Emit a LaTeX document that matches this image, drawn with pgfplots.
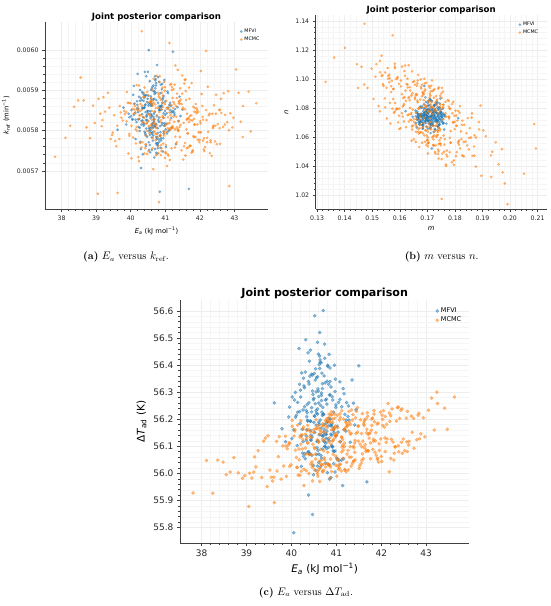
\documentclass[border=0pt]{standalone}
\usepackage{fontspec}
\usepackage{pgfplots}
\usepackage{pgfplotstable}
\pgfplotsset{compat=1.18}
\newfontfamily\djv{DejaVu Sans}
\definecolor{mfvi}{HTML}{1F77B4}
\definecolor{mcmc}{HTML}{FF7F0E}

\pgfplotstableread{
Ea k m n dT
40.69 0.005846 0.1715 1.0752 56.214
40.37 0.005812 0.1683 1.0701 56.078
41.08 0.005893 0.1739 1.0788 56.338
40.52 0.005771 0.1702 1.0659 56.151
40.88 0.005858 0.1668 1.0734 55.985
40.14 0.005827 0.1726 1.0815 56.262
40.71 0.005905 0.1694 1.0697 56.120
40.96 0.005798 0.1751 1.0742 56.399
40.43 0.005865 0.1709 1.0863 56.192
40.61 0.005752 0.1661 1.0724 56.040
41.27 0.005839 0.1721 1.0681 56.249
40.29 0.005881 0.1698 1.0769 56.316
40.78 0.005806 0.1744 1.0806 56.092
40.55 0.005923 0.1679 1.0745 56.178
40.02 0.005851 0.1712 1.0628 56.282
40.84 0.005787 0.1733 1.0711 56.439
40.66 0.005834 0.1657 1.0783 56.142
41.14 0.005869 0.1706 1.0739 55.955
40.35 0.005741 0.1769 1.0694 56.224
40.73 0.005912 0.1688 1.0827 56.360
40.49 0.005823 0.1724 1.0757 56.029
40.92 0.005877 0.1697 1.0672 56.271
39.87 0.005815 0.1716 1.0748 56.117
40.62 0.005792 0.1741 1.0796 56.181
41.35 0.005858 0.1675 1.0719 56.345
40.41 0.005946 0.1703 1.0733 56.073
40.79 0.005763 0.1729 1.0651 56.256
40.58 0.005841 0.1664 1.0776 56.484
40.24 0.005884 0.1737 1.0838 56.163
41.01 0.005803 0.1692 1.0705 56.056
40.67 0.005829 0.1718 1.0762 56.297
40.33 0.005896 0.1756 1.0727 56.138
40.86 0.005757 0.1685 1.0689 56.389
40.51 0.005862 0.1711 1.0853 56.212
40.97 0.005818 0.1647 1.0741 56.005
40.18 0.005873 0.1734 1.0714 56.329
40.74 0.005784 0.1701 1.0791 56.100
40.45 0.005935 0.1723 1.0636 56.243
41.21 0.005847 0.1681 1.0755 56.156
40.63 0.005796 0.1747 1.0768 56.520
40.38 0.005856 0.1696 1.0722 55.920
40.81 0.005822 0.1714 1.0809 56.191
40.07 0.005889 0.1672 1.0699 56.271
40.93 0.005748 0.1738 1.0746 56.083
40.56 0.005868 0.1708 1.0781 56.353
40.71 0.005809 0.1662 1.0667 56.140
41.44 0.005836 0.1727 1.0735 56.235
40.27 0.005901 0.1693 1.0874 56.063
40.64 0.005775 0.1752 1.0712 56.410
40.89 0.005852 0.1686 1.0758 56.175
40.47 0.005827 0.1719 1.0693 56.304
40.76 0.005963 0.1705 1.0771 56.038
39.94 0.005842 0.1731 1.0727 56.208
41.05 0.005793 0.1677 1.0802 56.262
40.59 0.005878 0.1743 1.0684 56.120
40.31 0.005815 0.1699 1.0744 56.374
40.83 0.005861 0.1666 1.0762 56.096
40.68 0.005733 0.1725 1.0819 56.226
40.42 0.005887 0.1713 1.0706 56.455
41.17 0.005831 0.1689 1.0738 56.162
40.54 0.005804 0.1761 1.0653 56.011
40.91 0.005916 0.1707 1.0785 56.283
40.22 0.005854 0.1674 1.0749 56.138
40.75 0.005779 0.1736 1.0716 56.334
40.61 0.005838 0.1695 1.0843 56.071
40.99 0.005872 0.1722 1.0731 56.244
40.36 0.005819 0.1658 1.0697 56.196
40.66 0.005898 0.1748 1.0776 56.409
41.31 0.005766 0.1703 1.0764 56.115
40.48 0.005849 0.1682 1.0682 56.291
40.85 0.005811 0.1717 1.0793 55.979
40.11 0.005867 0.1732 1.0725 56.214
40.72 0.005928 0.1691 1.0753 56.151
40.53 0.005799 0.1709 1.0661 56.345
40.95 0.005843 0.1745 1.0832 56.081
40.39 0.005882 0.1669 1.0741 56.261
40.78 0.005756 0.1728 1.0708 56.186
40.60 0.005835 0.1698 1.0787 56.440
41.12 0.005864 0.1714 1.0729 56.049
40.26 0.005807 0.1676 1.0757 56.234
40.69 0.005891 0.1739 1.0674 56.313
40.44 0.005826 0.1704 1.0816 56.123
40.87 0.005781 0.1663 1.0736 56.200
39.79 0.005857 0.1721 1.0769 56.165
40.63 0.005909 0.1755 1.0702 56.387
41.03 0.005817 0.1687 1.0747 56.052
40.50 0.005848 0.1712 1.0858 56.277
40.77 0.005769 0.1735 1.0718 56.130
40.32 0.005876 0.1693 1.0772 56.493
40.94 0.005832 0.1671 1.0691 56.226
40.57 0.005801 0.1726 1.0754 56.095
40.20 0.005941 0.1706 1.0797 56.307
40.82 0.005853 0.1742 1.0733 56.175
41.38 0.005824 0.1684 1.0664 56.259
40.65 0.005788 0.1715 1.0779 56.025
40.41 0.005863 0.1658 1.0744 56.359
40.90 0.005814 0.1731 1.0825 56.141
40.58 0.005885 0.1701 1.0711 56.219
40.74 0.005745 0.1749 1.0759 56.425
40.13 0.005845 0.1679 1.0738 56.103
39.62 0.005802 0.1707 1.0742 56.260
41.68 0.005655 0.1733 1.0768 55.969
40.52 0.006000 0.1694 1.0715 56.582
40.84 0.005648 0.1812 1.0731 56.121
40.47 0.005871 0.1621 1.0779 55.848
41.22 0.005996 0.1716 1.0523 56.196
40.71 0.005815 0.1689 1.0952 56.601
40.05 0.005829 0.1742 1.0687 55.781
41.50 0.005852 0.1697 1.0762 56.397
40.30 0.005707 0.1724 1.0749 56.073
40.67 0.005842 0.1668 1.0703 56.288
40.95 0.005793 0.1711 1.0791 56.151
40.38 0.005889 0.1746 1.0725 56.339
40.80 0.005826 0.1683 1.0658 56.003
40.55 0.005764 0.1729 1.0774 56.232
41.09 0.005857 0.1702 1.0837 56.116
40.23 0.005809 0.1738 1.0712 56.371
40.73 0.005918 0.1675 1.0747 56.181
40.46 0.005838 0.1719 1.0682 56.067
40.88 0.005776 0.1754 1.0756 56.319
40.62 0.005866 0.1691 1.0801 56.143
40.17 0.005821 0.1713 1.0737 56.461
41.26 0.005844 0.1664 1.0719 56.210
40.59 0.005901 0.1736 1.0765 56.085
40.76 0.005784 0.1705 1.0696 56.271
40.34 0.005855 0.1727 1.0784 56.161
40.98 0.005813 0.1686 1.0728 56.348
40.49 0.005879 0.1747 1.0866 55.995
40.70 0.005754 0.1699 1.0743 56.244
40.01 0.005836 0.1673 1.0707 56.128
40.86 0.005893 0.1722 1.0782 56.290
40.64 0.005818 0.1741 1.0665 56.197
41.16 0.005861 0.1694 1.0753 56.054
40.40 0.005797 0.1718 1.0722 56.414
40.79 0.005933 0.1677 1.0808 56.156
40.56 0.005848 0.1733 1.0739 56.222
40.28 0.005772 0.1708 1.0694 56.323
40.92 0.005869 0.1752 1.0771 56.097
40.67 0.005826 0.1681 1.0747 56.269
41.41 0.005884 0.1715 1.0716 56.179
40.45 0.005805 0.1697 1.0789 56.366
40.83 0.005851 0.1737 1.0677 56.032
40.09 0.005911 0.1666 1.0759 56.207
40.61 0.005783 0.1724 1.0822 56.284
41.00 0.005839 0.1703 1.0733 56.139
40.37 0.005874 0.1744 1.0704 56.445
40.74 0.005816 0.1688 1.0766 56.116
40.53 0.005752 0.1711 1.0742 56.257
40.90 0.005862 0.1728 1.0796 56.183
40.25 0.005829 0.1672 1.0686 56.075
40.69 0.005897 0.1759 1.0751 56.331
41.19 0.005808 0.1696 1.0729 56.218
40.43 0.005846 0.1717 1.0848 56.158
40.81 0.005778 0.1679 1.0714 56.395
40.58 0.005866 0.1738 1.0763 56.027
39.96 0.005833 0.1706 1.0737 56.245
40.97 0.005926 0.1685 1.0699 56.302
40.66 0.005811 0.1731 1.0781 56.167
40.33 0.005857 0.1692 1.0756 56.122
40.78 0.005794 0.1749 1.0721 56.274
40.58 0.005862 0.1698 1.0771 56.238
40.91 0.005819 0.1734 1.0708 56.099
40.27 0.005874 0.1716 1.0745 56.351
40.73 0.005768 0.1681 1.0812 56.162
40.49 0.005843 0.1757 1.0693 56.272
41.06 0.005897 0.1703 1.0758 56.047
40.64 0.005806 0.1669 1.0726 56.419
40.36 0.005833 0.1728 1.0784 56.193
40.82 0.005921 0.1712 1.0667 56.128
40.55 0.005789 0.1741 1.0739 56.301
40.18 0.005855 0.1687 1.0797 56.228
40.97 0.005812 0.1699 1.0716 56.083
40.68 0.005879 0.1763 1.0752 56.370
40.44 0.005761 0.1676 1.0703 56.141
41.23 0.005848 0.1722 1.0769 56.261
40.61 0.005905 0.1708 1.0821 56.189
40.31 0.005824 0.1745 1.0688 56.054
40.86 0.005796 0.1665 1.0744 56.339
40.52 0.005867 0.1719 1.0763 56.211
40.77 0.005742 0.1694 1.0729 56.112
40.09 0.005839 0.1737 1.0805 56.299
40.95 0.005886 0.1685 1.0678 56.168
40.63 0.005817 0.1752 1.0741 56.433
40.40 0.005858 0.1701 1.0787 56.073
41.12 0.005801 0.1726 1.0719 56.246
40.70 0.005935 0.1672 1.0756 56.137
40.47 0.005785 0.1714 1.0692 56.363
40.84 0.005851 0.1748 1.0774 56.203
40.22 0.005828 0.1691 1.0735 56.026
40.59 0.005871 0.1733 1.0843 56.312
41.02 0.005759 0.1706 1.0711 56.174
40.35 0.005893 0.1678 1.0762 56.254
40.75 0.005836 0.1759 1.0698 56.100
40.54 0.005807 0.1697 1.0751 56.386
40.88 0.005862 0.1724 1.0779 56.145
40.14 0.005779 0.1667 1.0724 56.226
40.66 0.005912 0.1743 1.0806 56.066
41.17 0.005845 0.1711 1.0686 56.294
40.42 0.005793 0.1688 1.0747 56.193
40.79 0.005869 0.1736 1.0766 56.340
40.57 0.005831 0.1702 1.0713 56.118
40.29 0.005754 0.1749 1.0792 56.246
40.93 0.005881 0.1683 1.0733 56.160
40.62 0.005814 0.1727 1.0657 56.402
40.38 0.005856 0.1695 1.0775 56.081
41.08 0.005798 0.1764 1.0742 56.273
40.71 0.005925 0.1709 1.0718 56.219
40.46 0.005835 0.1674 1.0811 56.134
40.83 0.005772 0.1738 1.0754 56.329
40.19 0.005864 0.1716 1.0696 56.184
40.67 0.005822 0.1689 1.0769 56.056
40.99 0.005849 0.1753 1.0737 56.253
40.51 0.005887 0.1696 1.0782 56.369
40.76 0.005764 0.1721 1.0706 56.145
40.33 0.005841 0.1668 1.0748 56.232
40.90 0.005903 0.1732 1.0829 56.102
40.60 0.005808 0.1705 1.0721 56.304
41.28 0.005853 0.1744 1.0761 56.197
40.43 0.005789 0.1682 1.0687 56.123
40.74 0.005876 0.1718 1.0744 56.477
40.05 0.005827 0.1729 1.0773 56.161
40.85 0.005858 0.1692 1.0714 56.289
40.56 0.005746 0.1756 1.0796 56.070
40.72 0.005894 0.1707 1.0739 56.217
40.39 0.005816 0.1677 1.0758 56.330
41.04 0.005843 0.1735 1.0702 56.152
40.65 0.005877 0.1699 1.0817 56.251
40.26 0.005799 0.1723 1.0731 56.117
40.81 0.005832 0.1661 1.0767 56.399
40.50 0.005946 0.1747 1.0748 56.188
40.94 0.005781 0.1713 1.0683 56.036
40.61 0.005862 0.1686 1.0779 56.260
40.34 0.005825 0.1741 1.0722 56.209
40.78 0.005768 0.1704 1.0851 56.144
41.15 0.005851 0.1727 1.0744 56.313
40.45 0.005888 0.1673 1.0709 56.227
40.69 0.005811 0.1758 1.0762 56.090
40.21 0.005846 0.1698 1.0736 56.282
40.87 0.005914 0.1719 1.0793 56.177
40.58 0.005795 0.1684 1.0718 56.357
}\mfvitab

\pgfplotstableread{
Ea k m n dT
41.32 0.005834 0.1652 1.0985 56.181
40.15 0.005768 0.1784 1.0563 55.994
42.07 0.005861 0.1713 1.0775 56.171
40.62 0.005902 0.1566 1.0694 56.045
39.48 0.005795 0.1805 1.0749 56.139
41.76 0.005745 0.1688 1.0734 56.112
40.88 0.005826 0.1619 1.1093 56.216
42.61 0.005879 0.1747 1.0556 56.105
40.31 0.005851 0.1731 1.0784 56.093
41.05 0.005712 0.1594 1.0702 56.015
38.72 0.005808 0.1669 1.0796 56.058
41.49 0.005937 0.1862 1.0764 56.119
40.77 0.005784 0.1725 1.0611 56.177
42.28 0.005842 0.1537 1.1027 56.049
39.95 0.005869 0.1702 1.0488 56.113
41.18 0.005756 0.1778 1.0810 56.112
40.46 0.005818 0.1641 1.0758 56.023
43.12 0.005894 0.1693 1.0788 56.278
41.63 0.005829 0.1826 1.0475 56.094
40.02 0.005731 0.1582 1.1106 56.196
41.91 0.005855 0.1739 1.0515 56.052
40.69 0.005796 0.1674 1.0860 56.126
39.21 0.005883 0.1615 1.0828 56.024
42.44 0.005773 0.1758 1.0823 56.233
41.27 0.005914 0.1707 1.0672 56.013
40.55 0.005837 0.1893 1.0818 56.198
41.71 0.005762 0.1659 1.0637 56.083
40.93 0.005859 0.1512 1.1016 56.122
38.25 0.005812 0.1734 1.0611 55.927
42.03 0.005948 0.1681 1.0882 56.199
41.38 0.005801 0.1796 1.0410 56.045
40.24 0.005724 0.1628 1.1003 56.090
41.84 0.005847 0.1746 1.0657 56.232
40.81 0.005889 0.1663 1.0893 56.078
39.67 0.005779 0.1547 1.0806 56.118
42.79 0.005821 0.1852 1.0595 56.124
41.12 0.005863 0.1719 1.0918 56.231
40.39 0.005743 0.1697 1.0673 55.999
41.56 0.005926 0.1604 1.0990 56.147
40.74 0.005806 0.1768 1.0402 56.051
41.98 0.005771 0.1655 1.0862 56.226
40.11 0.005852 0.1741 1.0553 56.059
43.47 0.005798 0.1689 1.1003 56.163
41.03 0.005874 0.1931 1.0474 56.169
40.58 0.005813 0.1571 1.0988 55.999
42.34 0.005737 0.1722 1.0545 56.193
39.83 0.005841 0.1678 1.0935 56.027
41.43 0.005905 0.1813 1.0570 56.205
40.86 0.005787 0.1636 1.0944 56.031
41.67 0.005832 0.1754 1.0488 56.150
40.28 0.005866 0.1702 1.0778 55.955
42.15 0.005759 0.1587 1.0790 56.258
38.96 0.005819 0.1726 1.0930 55.992
41.21 0.005881 0.1668 1.0657 56.170
40.65 0.005704 0.1779 1.0729 56.089
41.89 0.005846 0.1643 1.0576 56.067
40.97 0.005793 0.1711 1.0887 56.144
39.38 0.005857 0.1832 1.0568 56.119
42.52 0.005816 0.1529 1.1047 56.084
41.34 0.005892 0.1695 1.0646 56.234
40.43 0.005765 0.1752 1.0870 56.035
41.75 0.005838 0.1662 1.0724 56.149
40.83 0.005921 0.1608 1.0896 56.032
42.21 0.005782 0.1771 1.0508 56.213
40.17 0.005809 0.1717 1.0990 56.050
41.09 0.005853 0.1647 1.0791 56.207
41.52 0.005728 0.1798 1.0747 56.028
39.91 0.005869 0.1684 1.0628 56.091
42.88 0.005843 0.1738 1.0766 56.146
40.72 0.005791 0.1553 1.0729 56.174
41.29 0.005962 0.1708 1.0871 56.060
40.51 0.005824 0.1871 1.0473 56.096
41.94 0.005777 0.1665 1.0990 56.042
40.06 0.005854 0.1729 1.0677 56.138
41.15 0.005806 0.1621 1.0921 56.086
38.48 0.005875 0.1744 1.0579 56.042
42.39 0.005812 0.1691 1.0920 56.080
40.89 0.005749 0.1785 1.0642 56.228
41.59 0.005898 0.1598 1.0657 56.119
40.35 0.005834 0.1712 1.0826 56.159
41.81 0.005786 0.1673 1.0721 56.088
40.61 0.005849 0.1757 1.0914 56.116
39.58 0.005761 0.1639 1.0720 55.972
43.25 0.005861 0.1805 1.0679 56.258
41.07 0.005817 0.1701 1.0579 56.020
40.79 0.005894 0.1562 1.1029 56.203
42.11 0.005753 0.1733 1.0682 56.114
40.21 0.005828 0.1686 1.0906 56.108
41.41 0.005873 0.1819 1.0523 56.112
40.95 0.005798 0.1651 1.0586 56.165
39.12 0.005842 0.1724 1.0792 55.983
41.69 0.005907 0.1677 1.0946 56.224
40.47 0.005742 0.1762 1.0549 55.972
42.67 0.005809 0.1613 1.0870 56.211
41.23 0.005856 0.1706 1.0693 56.041
40.68 0.005821 0.1948 1.0565 56.177
41.87 0.005784 0.1667 1.0638 56.120
40.09 0.005866 0.1534 1.1021 56.086
41.36 0.005803 0.1747 1.0886 56.037
40.84 0.005935 0.1693 1.0648 56.219
37.81 0.005735 0.1331 1.0981 55.928
43.63 0.005868 0.2094 1.0523 56.282
40.32 0.006047 0.1362 1.1148 56.071
40.82 0.005622 0.1991 1.0139 56.034
38.11 0.005782 0.1472 1.1381 56.048
43.24 0.005784 0.2051 1.0349 56.300
39.05 0.005643 0.1752 1.0175 55.878
42.18 0.005998 0.1401 1.1215 56.006
38.55 0.005932 0.2088 1.0691 55.995
43.41 0.005897 0.1445 1.1102 56.241
41.12 0.006018 0.1981 1.0282 56.133
39.62 0.005645 0.1574 1.1301 55.892
42.85 0.005662 0.1932 1.0327 56.128
38.82 0.005781 0.1528 1.1124 56.002
43.05 0.005952 0.1973 1.0358 56.233
41.02 0.005815 0.1684 1.0898 56.050
40.57 0.005872 0.1772 1.0467 56.166
41.64 0.005793 0.1631 1.0869 56.106
40.26 0.005848 0.1714 1.0654 56.164
42.31 0.005771 0.1802 1.0783 56.097
40.99 0.005908 0.1579 1.0769 56.140
39.77 0.005825 0.1696 1.0975 55.979
41.47 0.005866 0.1737 1.0647 56.243
40.73 0.005739 0.1658 1.0888 56.058
42.56 0.005851 0.1761 1.0500 56.204
41.19 0.005807 0.1622 1.0850 56.014
40.41 0.005883 0.1709 1.0900 56.136
41.73 0.005762 0.1845 1.0543 56.130
40.92 0.005836 0.1671 1.0533 56.189
39.34 0.005894 0.1558 1.1023 55.985
42.02 0.005818 0.1727 1.0779 56.215
40.63 0.005756 0.1683 1.0670 55.970
41.31 0.005861 0.1789 1.0828 56.145
40.14 0.005803 0.1644 1.0674 56.178
41.58 0.005927 0.1719 1.0758 56.072
40.85 0.005787 0.1598 1.0797 56.132
42.73 0.005839 0.1757 1.0804 56.093
40.49 0.005871 0.1692 1.0569 56.151
41.13 0.005727 0.1826 1.0685 56.097
39.71 0.005845 0.1637 1.0802 56.062
41.96 0.005796 0.1742 1.0942 56.085
40.78 0.005857 0.1675 1.0689 56.193
41.26 0.005822 0.1569 1.0951 56.085
40.34 0.005771 0.1781 1.0497 56.129
42.47 0.005889 0.1704 1.0845 56.074
41.08 0.005833 0.1658 1.0768 56.220
40.66 0.005809 0.1734 1.0851 56.048
41.79 0.005751 0.1611 1.0742 56.201
39.99 0.005868 0.1768 1.0742 56.032
41.44 0.005814 0.1681 1.0562 56.148
40.87 0.005876 0.1861 1.0735 56.024
42.24 0.005797 0.1546 1.0867 56.238
40.53 0.005841 0.1715 1.0843 56.071
41.17 0.005916 0.1648 1.0680 56.161
39.46 0.005789 0.1799 1.0656 55.951
41.62 0.005827 0.1723 1.0924 56.177
40.71 0.005865 0.1629 1.0752 56.034
42.94 0.005808 0.1749 1.0544 56.205
41.01 0.005746 0.1687 1.0855 55.990
40.38 0.005893 0.1815 1.0578 56.162
41.53 0.005819 0.1591 1.1005 56.108
40.19 0.005852 0.1731 1.0544 56.134
42.09 0.005775 0.1665 1.0840 56.081
40.96 0.005831 0.1774 1.0855 56.130
38.91 0.005862 0.1652 1.0705 55.982
41.37 0.005799 0.1708 1.0731 56.217
40.59 0.005881 0.1888 1.0654 55.990
41.85 0.005815 0.1603 1.0662 56.191
40.44 0.005766 0.1718 1.0809 56.069
41.24 0.005903 0.1672 1.0662 56.183
42.62 0.005844 0.1753 1.0939 56.118
40.76 0.005792 0.1642 1.0767 56.195
41.06 0.005857 0.1795 1.0701 56.032
39.88 0.005823 0.1698 1.0612 56.101
41.66 0.005758 0.1564 1.1006 56.081
40.91 0.005869 0.1729 1.0487 56.120
42.38 0.005806 0.1679 1.0804 56.245
40.28 0.005838 0.1812 1.0781 56.015
41.14 0.005914 0.1633 1.0757 56.125
40.64 0.005781 0.1746 1.0807 56.159
41.92 0.005851 0.1669 1.0626 56.056
40.02 0.005812 0.1577 1.0931 56.174
41.39 0.005873 0.1738 1.0616 56.094
40.80 0.005744 0.1706 1.0953 56.036
42.19 0.005826 0.1839 1.0570 56.192
40.50 0.005888 0.1646 1.0902 56.162
41.11 0.005803 0.1721 1.0546 56.009
39.26 0.005847 0.1687 1.0895 56.084
41.57 0.005769 0.1782 1.0596 56.098
40.94 0.005833 0.1619 1.1023 56.169
42.82 0.005898 0.1733 1.0602 56.215
40.61 0.005817 0.1664 1.0851 56.014
41.28 0.005758 0.1758 1.0823 56.229
40.12 0.005861 0.1696 1.0545 56.023
41.78 0.005825 0.1541 1.0953 56.160
40.86 0.005789 0.1713 1.0805 55.983
42.46 0.005842 0.1807 1.0497 56.238
40.40 0.005907 0.1676 1.0998 56.071
41.21 0.005811 0.1741 1.0663 56.189
39.55 0.005774 0.1638 1.0921 55.986
41.49 0.005853 0.1702 1.0598 56.174
40.70 0.005828 0.1876 1.0598 56.184
42.00 0.005795 0.1589 1.0798 56.062
40.98 0.005866 0.1724 1.0872 56.138
40.22 0.005734 0.1661 1.0675 56.008
41.70 0.005879 0.1766 1.0764 56.211
43.18 0.005822 0.1702 1.0558 56.160
38.36 0.005859 0.1683 1.0910 56.049
41.33 0.005808 0.1614 1.0819 56.027
40.54 0.005841 0.1791 1.0765 56.165
41.83 0.005784 0.1728 1.0498 56.126
40.90 0.005894 0.1655 1.0872 56.216
39.16 0.005811 0.1746 1.0647 56.005
42.58 0.005767 0.1692 1.0929 56.229
41.04 0.005855 0.1573 1.0796 56.053
40.37 0.005819 0.1822 1.0640 56.113
41.60 0.005876 0.1677 1.0636 56.054
40.67 0.005798 0.1709 1.0940 56.154
42.26 0.005838 0.1738 1.0636 56.116
40.08 0.005842 0.1629 1.0942 56.161
40.44 0.005788 0.1757 1.0804 56.132
41.86 0.005856 0.1623 1.0669 56.078
40.97 0.005921 0.1691 1.0970 56.204
42.13 0.005749 0.1812 1.0561 56.127
39.73 0.005832 0.1576 1.0933 56.135
41.22 0.005807 0.1735 1.0860 56.006
40.58 0.005869 0.1658 1.0568 56.124
41.54 0.005761 0.1779 1.0739 56.198
40.13 0.005843 0.1702 1.0638 56.022
42.72 0.005815 0.1648 1.0980 56.203
41.09 0.005738 0.1869 1.0536 56.033
40.81 0.005884 0.1597 1.0968 56.197
41.73 0.005826 0.1722 1.0585 56.148
39.96 0.005792 0.1681 1.0962 56.026
41.36 0.005951 0.1763 1.0587 56.197
40.69 0.005817 0.1636 1.0854 56.008
42.41 0.005863 0.1705 1.0564 56.203
40.27 0.005769 0.1748 1.0825 56.171
41.15 0.005838 0.1564 1.0836 56.056
38.64 0.005875 0.1792 1.0703 56.005
41.61 0.005803 0.1667 1.1028 56.182
40.89 0.005756 0.1718 1.0599 56.007
42.05 0.005891 0.1834 1.0686 56.231
40.36 0.005822 0.1611 1.0812 56.112
41.42 0.005784 0.1696 1.0765 56.050
40.75 0.005936 0.1741 1.0503 56.151
41.95 0.005847 0.1655 1.0962 56.109
39.42 0.005779 0.1726 1.0640 56.130
41.18 0.005863 0.1587 1.1000 56.099
40.52 0.005811 0.1806 1.0678 56.091
42.29 0.005744 0.1673 1.0631 56.074
40.98 0.005899 0.1714 1.0954 56.175
41.67 0.005829 0.1749 1.0594 56.086
40.21 0.005852 0.1642 1.0887 56.194
41.31 0.005767 0.1783 1.0795 56.098
40.63 0.005874 0.1699 1.0581 56.145
42.57 0.005806 0.1617 1.0875 56.116
40.84 0.005833 0.1736 1.0699 56.206
39.89 0.005896 0.1664 1.0971 55.989
41.47 0.005751 0.1721 1.0606 56.152
40.46 0.005818 0.1854 1.0662 56.043
41.81 0.005859 0.1583 1.0835 56.204
41.04 0.005797 0.1707 1.0852 56.026
40.17 0.005913 0.1769 1.0480 56.090
42.36 0.005842 0.1689 1.0823 56.243
40.72 0.005776 0.1651 1.0726 56.084
41.26 0.005866 0.1794 1.0843 56.178
39.61 0.005812 0.1713 1.0705 55.986
41.58 0.005738 0.1628 1.0963 56.221
40.93 0.005887 0.1746 1.0557 56.070
42.01 0.005823 0.1671 1.0803 56.044
40.31 0.005758 0.1732 1.0883 56.145
41.12 0.005845 0.1608 1.0766 56.134
40.66 0.005929 0.1777 1.0741 56.033
42.84 0.005801 0.1703 1.0537 56.222
41.39 0.005868 0.1659 1.0897 56.046
40.07 0.005783 0.1738 1.0646 56.156
41.71 0.005836 0.1817 1.0768 56.144
40.79 0.005762 0.1582 1.0776 56.168
41.19 0.005908 0.1694 1.0807 56.012
39.18 0.005826 0.1729 1.0837 56.061
42.18 0.005851 0.1645 1.0653 56.223
40.54 0.005794 0.1751 1.0902 56.053
41.45 0.005877 0.1674 1.0740 56.229
40.87 0.005739 0.1724 1.0542 56.053
41.93 0.005815 0.1799 1.0706 56.186
40.33 0.005862 0.1592 1.1014 56.010
41.07 0.005806 0.1686 1.0696 56.197
42.69 0.005893 0.1758 1.0723 56.152
40.61 0.005827 0.1633 1.0707 56.116
41.33 0.005771 0.1712 1.0916 56.060
39.81 0.005849 0.1785 1.0562 56.102
41.76 0.005918 0.1667 1.0798 56.054
40.96 0.005788 0.1739 1.0485 56.219
42.08 0.005834 0.1604 1.0950 56.131
40.42 0.005756 0.1698 1.0812 56.154
41.24 0.005871 0.1829 1.0471 56.071
40.74 0.005813 0.1662 1.0954 56.122
41.63 0.005842 0.1717 1.0680 56.197
40.19 0.005799 0.1552 1.0940 55.993
42.49 0.005766 0.1734 1.0821 56.127
40.85 0.005881 0.1689 1.0613 56.192
41.14 0.005826 0.1778 1.0850 56.104
39.93 0.005743 0.1643 1.0716 56.105
41.51 0.005857 0.1706 1.0783 56.018
40.59 0.005803 0.1759 1.0612 56.177
41.88 0.005866 0.1625 1.0966 56.150
40.99 0.005732 0.1721 1.0806 56.030
40.25 0.005838 0.1804 1.0470 56.126
42.23 0.005909 0.1676 1.0758 56.126
41.29 0.005785 0.1739 1.0935 56.190
40.70 0.005848 0.1615 1.0708 56.006
41.68 0.005821 0.1693 1.0818 56.163
39.07 0.005879 0.1747 1.0786 56.001
41.02 0.005764 0.1658 1.0688 56.215
42.97 0.005832 0.1781 1.0797 56.135
40.48 0.005896 0.1702 1.0558 56.108
41.41 0.005809 0.1634 1.0876 56.078
40.89 0.005852 0.1766 1.0844 56.161
41.99 0.005777 0.1711 1.0657 56.127
41.28 0.005803 0.1498 1.1072 56.156
40.63 0.005862 0.1523 1.0814 56.019
42.12 0.005781 0.1556 1.1076 56.181
39.87 0.005846 0.1471 1.0963 56.137
41.55 0.005917 0.1539 1.0965 56.037
40.94 0.005768 0.1582 1.1086 56.162
41.83 0.005829 0.1505 1.0864 56.119
40.36 0.005884 0.1547 1.1046 56.177
42.45 0.005812 0.1592 1.0794 56.115
41.07 0.005741 0.1461 1.1085 56.117
40.72 0.005856 0.1528 1.0778 56.012
41.66 0.005793 0.1569 1.0911 56.202
39.52 0.005838 0.1515 1.1103 56.012
41.19 0.005901 0.1483 1.0939 56.162
42.31 0.005776 0.1558 1.1003 56.099
40.85 0.005821 0.1597 1.0748 56.188
41.42 0.005867 0.1534 1.1161 56.122
40.51 0.005749 0.1576 1.0863 56.014
41.91 0.005843 0.1449 1.0939 56.182
40.99 0.005812 0.1562 1.0979 56.064
41.24 0.005835 0.1827 1.0714 56.174
40.58 0.005874 0.1864 1.0471 56.007
42.03 0.005796 0.1842 1.0627 56.177
40.21 0.005858 0.1903 1.0647 56.141
41.71 0.005762 0.1876 1.0398 56.084
40.92 0.005907 0.1818 1.0814 56.201
41.38 0.005823 0.1935 1.0500 56.100
39.96 0.005787 0.1851 1.0516 56.111
42.58 0.005852 0.1809 1.0714 56.081
41.01 0.005744 0.1887 1.0705 56.145
40.67 0.005869 0.1958 1.0413 56.030
41.84 0.005815 0.1833 1.0467 56.219
40.39 0.005832 0.1871 1.0613 56.069
41.49 0.005892 0.1912 1.0607 56.175
42.21 0.005771 0.1824 1.0588 56.055
40.83 0.005846 0.1896 1.0335 56.117
41.16 0.005803 0.1847 1.0731 56.201
39.68 0.005861 0.1815 1.0548 56.009
41.62 0.005756 0.1971 1.0518 56.190
40.76 0.005838 0.1858 1.0598 56.024
41.33 0.005881 0.1632 1.1095 56.148
40.47 0.005799 0.1768 1.0412 56.032
42.09 0.005827 0.1645 1.1053 56.210
40.88 0.005764 0.1752 1.0450 56.109
41.57 0.005853 0.1608 1.1086 56.048
40.24 0.005912 0.1789 1.0428 56.142
41.12 0.005819 0.1617 1.1055 56.079
41.79 0.005748 0.1741 1.0453 56.177
40.61 0.005866 0.1583 1.1075 56.168
42.38 0.005809 0.1796 1.0440 56.102
}\mcmctab

\pgfplotsset{
  jp/.style={
    scale only axis,
    axis x line=bottom, axis y line=left,
    axis line style={-, draw=black!75, line width=0.7pt},
    tick align=outside,
    major tick length=3pt, minor tick length=1.6pt,
    every tick/.style={black!75, line width=0.5pt},
    minor tick num=4,
    scaled ticks=false,
    grid=both,
    major grid style={black!7, line width=0.4pt},
    minor grid style={black!4, line width=0.3pt},
    legend cell align=left,
    legend style={draw=none, fill=none, at={(0.985,0.985)}, anchor=north east,
      row sep=-1pt},
  },
  sm/.style={mark=*, only marks, mark size=#1,
    mark options={draw=none, opacity=0.5}},
}

\begin{document}
\begin{tikzpicture}
\useasboundingbox (0,0) rectangle (550pt,606pt);

% ---------- (a)
\begin{axis}[jp, at={(45pt,397pt)}, anchor=south west, width=223pt, height=187pt,
  xmin=37.52, xmax=43.97, ymin=0.005605, ymax=0.006070,
  xtick={38,39,40,41,42,43}, xticklabels={38,39,40,41,42,43},
  ytick={0.0057,0.0058,0.0059,0.0060}, yticklabels={0.0057,0.0058,0.0059,0.0060},
  ticklabel style={font=\djv\fontsize{6.2}{7}\selectfont, text=black!85},
  label style={font=\djv\fontsize{6.8}{8}\selectfont},
  xlabel={\textit{E}\textsubscript{\textit{a}} (kJ mol\textsuperscript{−1})},
  ylabel={\textit{k}\textsubscript{ref} (min\textsuperscript{−1})},
  title={Joint posterior comparison},
  title style={font=\djv\bfseries\fontsize{8.6}{10}\selectfont, yshift=-9pt},
  legend style={font=\djv\fontsize{4.8}{5.5}\selectfont},
]
\addplot[sm=1.15pt, mfvi] table[x=Ea, y=k] {\mfvitab};
\addplot[sm=1.15pt, mcmc] table[x=Ea, y=k] {\mcmctab};
\legend{MFVI, MCMC}
\end{axis}

% ---------- (b)
\begin{axis}[jp, at={(315.7pt,397pt)}, anchor=south west, width=231pt, height=194pt,
  xmin=0.1295, xmax=0.2133, ymin=1.0106, ymax=1.1441,
  xtick={0.13,0.14,0.15,0.16,0.17,0.18,0.19,0.20,0.21},
  xticklabels={0.13,0.14,0.15,0.16,0.17,0.18,0.19,0.20,0.21},
  ytick={1.02,1.04,1.06,1.08,1.10,1.12,1.14},
  yticklabels={1.02,1.04,1.06,1.08,1.10,1.12,1.14},
  ticklabel style={font=\djv\fontsize{6.2}{7}\selectfont, text=black!85},
  label style={font=\djv\fontsize{6.8}{8}\selectfont},
  xlabel={\textit{m}},
  ylabel={\textit{n}},
  title={Joint posterior comparison},
  title style={font=\djv\bfseries\fontsize{8.6}{10}\selectfont, yshift=-9pt},
  legend style={font=\djv\fontsize{4.8}{5.5}\selectfont},
]
\addplot[sm=1.15pt, mfvi] table[x=m, y=n] {\mfvitab};
\addplot[sm=1.15pt, mcmc] table[x=m, y=n] {\mcmctab};
\legend{MFVI, MCMC}
\end{axis}

% ---------- (c)
\begin{axis}[jp, at={(180pt,62.7pt)}, anchor=south west, width=289.3pt, height=243.3pt,
  xmin=37.52, xmax=43.96, ymin=55.742, ymax=56.64,
  xtick={38,39,40,41,42,43}, xticklabels={38,39,40,41,42,43},
  ytick={55.8,55.9,56.0,56.1,56.2,56.3,56.4,56.5,56.6},
  yticklabels={55.8,55.9,56.0,56.1,56.2,56.3,56.4,56.5,56.6},
  ticklabel style={font=\djv\fontsize{9}{10}\selectfont, text=black!85},
  label style={font=\djv\fontsize{10.5}{12}\selectfont},
  xlabel={\textit{E}\textsubscript{\textit{a}} (kJ mol\textsuperscript{−1})},
  ylabel={Δ\textit{T}\textsubscript{ad} (K)},
  title={Joint posterior comparison},
  title style={font=\djv\bfseries\fontsize{11.1}{13}\selectfont, yshift=-8pt},
  legend style={font=\djv\fontsize{6.5}{7.5}\selectfont, at={(0.99,0.985)}},
]
\addplot[sm=1.6pt, mfvi] table[x=Ea, y=dT] {\mfvitab};
\addplot[sm=1.6pt, mcmc] table[x=Ea, y=dT] {\mcmctab};
\legend{MFVI, MCMC}
\end{axis}

% captions
\node[font=\fontsize{10.5}{12}\selectfont] at (126pt,349pt) {\textbf{(a)} $E_a$ versus $k_{\mathrm{ref}}$.};
\node[font=\fontsize{10.5}{12}\selectfont] at (441.7pt,349pt) {\textbf{(b)} $m$ versus $n$.};
\node[font=\fontsize{10.5}{12}\selectfont] at (306pt,13.3pt) {\textbf{(c)} $E_a$ versus $\Delta T_{\mathrm{ad}}$.};
\end{tikzpicture}
\end{document}
